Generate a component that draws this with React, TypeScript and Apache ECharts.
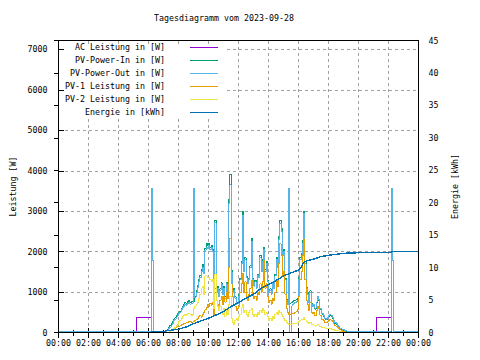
import React, { useEffect, useRef } from "react";
import * as echarts from "echarts";

const TITLE = "Tagesdiagramm vom 2023-09-28";
const xTickLabels = ["00:00", "02:00", "04:00", "06:00", "08:00", "10:00", "12:00", "14:00", "16:00", "18:00", "20:00", "22:00", "00:00"];
const seriesNames = ["AC Leistung in [W]", "PV-Power-In in [W]", "PV-Power-Out in [W]", "PV-1 Leistung in [W]", "PV-2 Leistung in [W]", "Energie in [kWh]"];
const seriesColors = ["#9400d3", "#009e73", "#56b4e9", "#e69f00", "#f0e442", "#0072b2"];

// daytime samples every 5 minutes, 07:00 .. 20:00
const DAY_START_HOUR = 7;
const DAY_STEP_MIN = 5;

const pvOutDay = [
  30, 30, 40, 60, 90, 130, 180, 230, 290, 330, 380, 430,
  460, 500, 560, 620, 650, 700, 680, 720, 740, 700, 720, 730,
  3560, 870, 1000, 1110, 1250, 1360, 1500, 1610, 1450, 2030, 2100, 2080,
  2150, 2050, 2100, 2000, 950, 2720, 1000, 1100, 900, 1050, 1200, 950,
  1100, 850, 1200, 1000, 3200, 3650, 1500, 1000, 1050, 850, 700, 720,
  900, 1300, 1700, 2900, 1500, 1800, 1350, 1200, 1300, 1600, 2250, 1300,
  1150, 1250, 1100, 1400, 1350, 1850, 1500, 1750, 2050, 1500, 1700, 1250,
  1000, 1050, 950, 1200, 1100, 1400, 1800, 1600, 2300, 2700, 2500, 1900,
  2000, 1300, 800, 700, 3560, 0, 650, 700, 720, 740, 760, 800,
  1300, 1800, 1900, 2200, 2950, 1700, 1100, 950, 750, 1000, 700, 650,
  700, 600, 750, 880, 820, 600, 480, 470, 420, 350, 330, 380,
  420, 440, 420, 380, 300, 250, 220, 180, 140, 110, 90, 70,
  60, 45, 35, 30, 30, 30, 30, 30, 30, 30, 30, 30,
  30,
];

const pvInDay = [
  0, 20, 50, 80, 120, 170, 220, 270, 320, 360, 410, 460,
  490, 530, 590, 650, 690, 740, 720, 760, 780, 740, 760, 770,
  760, 900, 1050, 1160, 1300, 1420, 1560, 1680, 1500, 2080, 2200, 2150,
  2200, 2100, 2150, 2050, 980, 2780, 1030, 1130, 930, 1080, 1230, 980,
  1130, 880, 1240, 1030, 3300, 3920, 1550, 1030, 1080, 880, 730, 750,
  930, 1340, 1750, 3000, 1550, 1850, 1390, 1240, 1340, 1650, 2320, 1340,
  1190, 1290, 1140, 1440, 1390, 1910, 1550, 1800, 2110, 1550, 1750, 1290,
  1030, 1080, 980, 1240, 1140, 1440, 1850, 1650, 2370, 2780, 2580, 1960,
  2060, 1340, 830, 720, 700, 720, 740, 760, 780, 800, 820, 850,
  1350, 1850, 1960, 2270, 3000, 1750, 1130, 980, 780, 1030, 720, 640,
  690, 580, 730, 850, 790, 580, 460, 450, 400, 330, 310, 360,
  390, 410, 390, 350, 270, 220, 190, 150, 110, 80, 60, 40,
  30, 20, 10, 0, 0, 0, 0, 0, 0, 0, 0, 0,
  0,
];

const pv1Day = [
  0, 0, 0, 10, 20, 40, 60, 80, 100, 110, 130, 150,
  160, 170, 190, 200, 220, 230, 250, 240, 260, 280, 250, 260,
  270, 300, 320, 350, 400, 420, 380, 450, 500, 560, 620, 700,
  650, 720, 680, 750, 450, 1100, 800, 700, 650, 800, 900, 700,
  900, 750, 1000, 850, 1600, 2330, 1200, 900, 700, 650, 550, 600,
  650, 1000, 1200, 1460, 1000, 1250, 900, 800, 950, 1100, 1280, 950,
  850, 900, 800, 1000, 950, 1200, 1000, 1250, 1780, 1100, 1200, 900,
  750, 800, 700, 850, 800, 1000, 1300, 1150, 1700, 2200, 1900, 1400,
  1500, 950, 600, 500, 450, 450, 460, 470, 480, 500, 520, 560,
  900, 1300, 1500, 1900, 2300, 1300, 800, 700, 550, 750, 500, 480,
  500, 420, 550, 650, 600, 430, 330, 320, 290, 240, 230, 270,
  300, 320, 300, 270, 210, 170, 150, 120, 90, 70, 50, 30,
  20, 10, 0, 0, 0, 0, 0, 0, 0, 0, 0, 0,
  0,
];

const pv2Day = [
  0, 0, 0, 10, 20, 30, 50, 70, 100, 130, 170, 210,
  260, 300, 350, 400, 430, 450, 430, 480, 460, 450, 420, 440,
  600, 650, 700, 750, 850, 950, 1100, 1150, 950, 1400, 1400, 1350,
  1350, 1300, 1250, 1300, 600, 1450, 800, 650, 550, 650, 500, 450,
  600, 400, 550, 450, 700, 900, 350, 250, 200, 300, 350, 300,
  400, 450, 600, 700, 500, 550, 450, 400, 500, 550, 600, 450,
  400, 450, 400, 500, 450, 550, 500, 600, 550, 450, 500, 400,
  300, 350, 300, 400, 350, 450, 500, 450, 550, 500, 450, 400,
  350, 300, 250, 220, 200, 200, 210, 220, 230, 230, 240, 250,
  280, 300, 320, 330, 380, 320, 280, 250, 220, 250, 210, 190,
  180, 160, 170, 190, 180, 150, 130, 120, 110, 100, 90, 90,
  90, 90, 80, 70, 60, 50, 40, 40, 30, 20, 10, 0,
  0, 0, 0, 0, 0, 0, 0, 0, 0, 0, 0, 0,
  0,
];

// night-time samples [time, W]
const pvOutMorning: [string, number][] = [["00:00", 30], ["06:10", 3560], ["06:15", 1780], ["06:20", 30]];
const pvOutEvening: [string, number][] = [["22:10", 3560], ["22:15", 1780], ["22:20", 30], ["24:00", 30]];
const acMorning: [string, number][] = [["00:00", 0], ["05:10", 370], ["06:10", 0]];
const acEvening: [string, number][] = [["21:10", 370], ["22:10", 0], ["24:00", 370]];
const zeroMorning: [string, number][] = [["00:00", 0]];
const zeroEvening: [string, number][] = [["24:00", 0]];

// cumulative energy [time, kWh]
const energy: [string, number][] = [
  ["00:40", 0], ["06:10", 0], ["06:15", 0.15], ["07:05", 0.15], ["07:10", 0.3], ["07:30", 0.35],
  ["08:00", 0.5], ["08:30", 0.85], ["09:00", 1.35], ["09:30", 1.8], ["10:00", 2.2], ["10:30", 2.7],
  ["11:00", 3.2], ["11:30", 4.0], ["12:00", 4.6], ["12:30", 5.3], ["13:00", 5.9], ["13:30", 6.8],
  ["14:00", 7.4], ["14:30", 8.0], ["15:00", 8.7], ["15:30", 9.2], ["16:00", 9.6], ["16:10", 10.0],
  ["16:20", 10.8], ["16:30", 11.0], ["17:00", 11.3], ["17:30", 11.7], ["18:00", 11.9], ["18:30", 12.05],
  ["19:00", 12.2], ["20:00", 12.3], ["22:10", 12.3], ["22:15", 12.45], ["24:00", 12.5],
];

const Y_LEFT_MAX = 7222;
const Y_RIGHT_MAX = 45;

const FONT = "'DejaVu Sans Mono', monospace";
const FS = 8.3;

const hm = (s: string) => {
  const [h, m] = s.split(":").map(Number);
  return h + m / 60;
};
const pairs = (p: [string, number][]) => p.map(([t, v]) => [hm(t), v]);
const day = (vals: number[]) => vals.map((v, i) => [DAY_START_HOUR + (i * DAY_STEP_MIN) / 60, v]);

const GRID = { left: 58.5, top: 40.5, width: 360, height: 292 };

const CSS = `.gp-chart svg path, .gp-chart svg line, .gp-chart svg rect { shape-rendering: crispEdges; }`;

export default function App() {
  const ref = useRef<HTMLDivElement>(null);
  useEffect(() => {
    const chart = echarts.init(ref.current!, null, { renderer: "svg" });
    const lineSeries = (idx: number, data: number[][], extra: any = {}) => ({
      name: seriesNames[idx],
      type: "line",
      data,
      step: "end",
      showSymbol: false,
      symbol: "none",
      lineStyle: { width: 1, color: seriesColors[idx] },
      itemStyle: { color: seriesColors[idx] },
      ...extra,
    });
    const legendY0 = 47;
    const legendDy = 13;
    const legendGraphics: any[] = [
      {
        type: "rect",
        z: 90,
        shape: { x: 64, y: 46, width: 160, height: 73 },
        style: { fill: "#ffffff" },
      },
    ];
    seriesNames.forEach((n, i) => {
      legendGraphics.push({
        type: "text",
        z: 95,
        x: 165,
        y: legendY0 + i * legendDy,
        style: { text: n, font: `${FS}px ${FONT}`, fill: "#000", align: "right", verticalAlign: "middle" },
      });
      legendGraphics.push({
        type: "line",
        z: 95,
        shape: { x1: 190, y1: legendY0 + i * legendDy + 0.5, x2: 218, y2: legendY0 + i * legendDy + 0.5 },
        style: { stroke: seriesColors[i], lineWidth: 1.2 },
      });
    });
    const axisLineStyle = { color: "#000", width: 1 };
    const splitStyle = { color: "#a0a0a0", width: 1, type: [3, 3] as any };
    const option: any = {
      animation: false,
      backgroundColor: "#ffffff",
      textStyle: { fontFamily: FONT, fontSize: FS, color: "#000" },
      grid: GRID,
      graphic: [
        {
          type: "text",
          z: 95,
          x: 224,
          y: 18,
          style: { text: TITLE, font: `${FS}px ${FONT}`, fill: "#000", align: "center", verticalAlign: "middle" },
        },
        ...legendGraphics,
        {
          type: "rect",
          z: 100,
          shape: { x: GRID.left, y: GRID.top, width: GRID.width, height: GRID.height },
          style: { fill: null, stroke: "#000", lineWidth: 1 },
        },
      ],
      xAxis: [
        {
          type: "value",
          min: 0,
          max: 24,
          interval: 2,
          position: "bottom",
          axisLine: { show: true, lineStyle: axisLineStyle },
          axisTick: { show: true, inside: true, length: 5, lineStyle: axisLineStyle },
          minorTick: { show: true, splitNumber: 2, length: 3, lineStyle: axisLineStyle },
          axisLabel: {
            margin: 6,
            fontFamily: FONT,
            fontSize: FS,
            color: "#000",
            formatter: (v: number) => xTickLabels[Math.round(v / 2)],
          },
          splitLine: { show: true, lineStyle: splitStyle },
        },
        {
          type: "value",
          min: 0,
          max: 24,
          interval: 2,
          position: "top",
          axisLine: { show: true, lineStyle: axisLineStyle },
          axisTick: { show: true, inside: true, length: 5, lineStyle: axisLineStyle },
          minorTick: { show: true, splitNumber: 2, length: 3, lineStyle: axisLineStyle },
          axisLabel: { show: false },
          splitLine: { show: false },
        },
      ],
      yAxis: [
        {
          type: "value",
          min: 0,
          max: Y_LEFT_MAX,
          interval: 1000,
          position: "left",
          name: "Leistung [W]",
          nameLocation: "middle",
          nameRotate: 90,
          nameGap: 42,
          nameTextStyle: { fontFamily: FONT, fontSize: FS, color: "#000" },
          axisLine: { show: true, lineStyle: axisLineStyle },
          axisTick: { show: true, inside: true, length: 5, lineStyle: axisLineStyle },
          axisLabel: {
            margin: 11,
            fontFamily: FONT,
            fontSize: FS,
            color: "#000",
            showMaxLabel: false,
            formatter: (v: number) => String(v),
          },
          splitLine: { show: true, lineStyle: splitStyle },
        },
        {
          type: "value",
          min: 0,
          max: Y_RIGHT_MAX,
          interval: 5,
          position: "right",
          name: "Energie [kWh]",
          nameLocation: "middle",
          nameRotate: 90,
          nameGap: 32,
          nameTextStyle: { fontFamily: FONT, fontSize: FS, color: "#000" },
          axisLine: { show: true, lineStyle: axisLineStyle },
          axisTick: { show: true, inside: true, length: 5, lineStyle: axisLineStyle },
          axisLabel: { margin: 10, fontFamily: FONT, fontSize: FS, color: "#000", formatter: (v: number) => String(v) },
          splitLine: { show: false },
        },
      ],
      series: [
        lineSeries(0, [...pairs(acMorning), ...day(pvOutDay), ...pairs(acEvening)]),
        lineSeries(1, [...pairs(zeroMorning), ...day(pvInDay), ...pairs(zeroEvening)]),
        lineSeries(2, [...pairs(pvOutMorning), ...day(pvOutDay), ...pairs(pvOutEvening)]),
        lineSeries(3, [...pairs(zeroMorning), ...day(pv1Day), ...pairs(zeroEvening)]),
        lineSeries(4, [...pairs(zeroMorning), ...day(pv2Day), ...pairs(zeroEvening)]),
        lineSeries(5, pairs(energy), { step: false, yAxisIndex: 1, lineStyle: { width: 1.4, color: seriesColors[5] } }),
      ],
    };
    chart.setOption(option);
    return () => chart.dispose();
  }, []);
  return (
    <>
      <style>{CSS}</style>
      <div
        ref={ref}
        className="gp-chart"
        style={{ position: "fixed", left: 0, top: 0, width: 480, height: 360, background: "#fff" }}
      />
    </>
  );
}
